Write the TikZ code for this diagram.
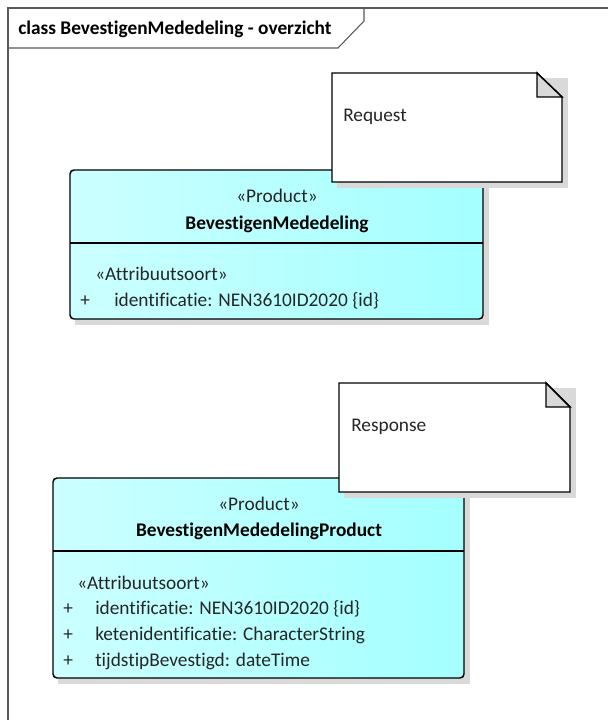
\documentclass[tikz,border=0pt]{standalone}
\usepackage{fontspec}
\setmainfont{Carlito}[Ligatures=NoCommon]
\begin{document}
\begin{tikzpicture}[x=0.75pt,y=-0.75pt,
  framestyle/.style={draw=black!65,line width=0.8pt},
  shadowfill/.style={fill=black!15,draw=none},
  classbox/.style={draw=black,line width=1.1pt,rounded corners=3pt,shading=axis,left color=cyanL,right color=cyanR,shading angle=90},
  notebox/.style={draw=black,line width=1.1pt,fill=white},
  foldbox/.style={draw=black,line width=1.1pt,fill=black!15},
  txt/.style={font=\fontsize{14.5}{17}\selectfont,inner sep=0pt,text=black!85},
  btxt/.style={font=\fontsize{14.5}{17}\selectfont\bfseries,inner sep=0pt,text=black}]
\definecolor{cyanL}{HTML}{CCFFFF}
\definecolor{cyanR}{HTML}{A4FFFF}
\useasboundingbox (0,0) rectangle (607,720);
\fill[white] (0,0) rectangle (607,720);
% frame
\draw[framestyle] (8,725) -- (8,8) -- (612,8);
\draw[framestyle] (8,48) -- (338,48) -- (364,21) -- (364,8);
\node[btxt,anchor=base west] (title) at (18,35) {class BevestigenMededeling - overzicht};

% class 1
\fill[shadowfill] (75,175) rectangle (489,325);
\shade[classbox] (70,170) rectangle (483,319);
\coordinate (c1nw) at (70,170);
\coordinate (c1se) at (483,319);
\draw[line width=1.1pt] (70,243) -- (483,243);
\node[txt,anchor=base] (c1st) at (277,203) {«Product»};
\node[btxt,anchor=base] (c1nm) at (277,229) {BevestigenMededeling};
\node[txt,anchor=base west] (c1at) at (95,280) {«Attribuutsoort»};
\node[txt,anchor=base west] (c1p1) at (80,306) {+};
\node[txt,anchor=base west] (c1a1) at (114,306) {identificatie: NEN3610ID2020 \{id\}};

% note 1
\fill[shadowfill] (337,78) rectangle (568,188);
\draw[notebox] (332,73) -- (537,73) -- (562,97) -- (562,182) -- (332,182) -- cycle;
\draw[foldbox] (537,73) -- (537,97) -- (562,97) -- cycle;
\node[txt,anchor=base west] (n1) at (343,122) {Request};

% class 2
\fill[shadowfill] (58,483) rectangle (470,684);
\shade[classbox] (53,478) rectangle (464,678);
\coordinate (c2nw) at (53,478);
\coordinate (c2se) at (464,678);
\draw[line width=1.1pt] (53,551) -- (464,551);
\node[txt,anchor=base] (c2st) at (259,510) {«Product»};
\node[btxt,anchor=base] (c2nm) at (259,536) {BevestigenMededelingProduct};
\node[txt,anchor=base west] (c2at) at (77,589) {«Attribuutsoort»};
\node[txt,anchor=base west] (c2p1) at (63,614) {+};
\node[txt,anchor=base west] (c2a1) at (95,614) {identificatie: NEN3610ID2020 \{id\}};
\node[txt,anchor=base west] (c2p2) at (63,640) {+};
\node[txt,anchor=base west] (c2a2) at (95,640) {ketenidentificatie: CharacterString};
\node[txt,anchor=base west] (c2p3) at (63,666) {+};
\node[txt,anchor=base west] (c2a3) at (95,666) {tijdstipBevestigd: dateTime};

% note 2
\fill[shadowfill] (344,388) rectangle (576,498);
\draw[notebox] (339,383) -- (546,383) -- (570,407) -- (570,492) -- (339,492) -- cycle;
\draw[foldbox] (546,383) -- (546,407) -- (570,407) -- cycle;
\node[txt,anchor=base west] (n2) at (351,431) {Response};
\end{tikzpicture}
\end{document}
